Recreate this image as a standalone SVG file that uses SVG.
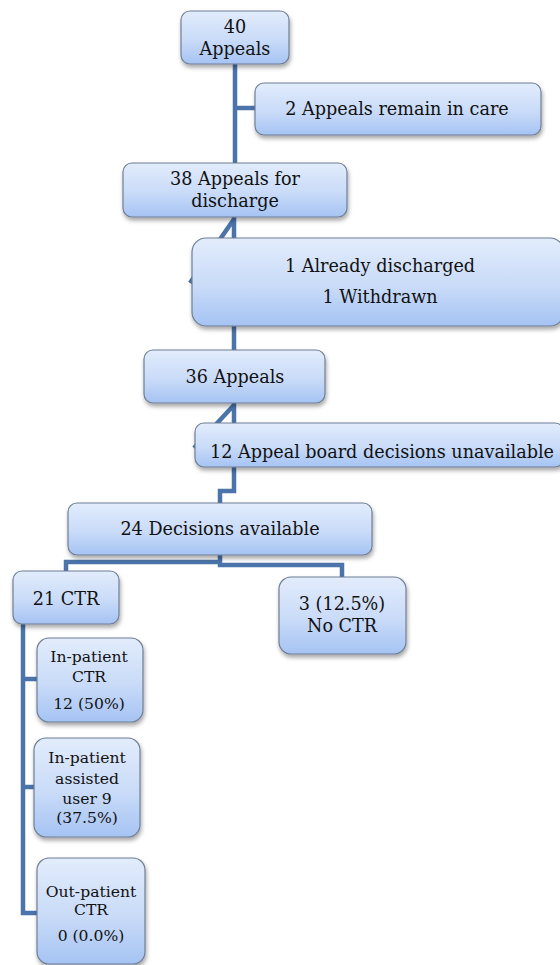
<svg xmlns="http://www.w3.org/2000/svg" width="560" height="965" viewBox="0 0 560 965">
<defs>
<linearGradient id="g" x1="0" y1="0" x2="0" y2="1">
<stop offset="0" stop-color="#e2ecfc"/>
<stop offset="0.55" stop-color="#c9dbf8"/>
<stop offset="1" stop-color="#a5c3f3"/>
</linearGradient>
<filter id="sh" x="-10%" y="-10%" width="130%" height="140%">
<feDropShadow dx="1" dy="3" stdDeviation="2" flood-color="#000" flood-opacity="0.35"/>
</filter>
</defs>
<style>
.n{fill:url(#g);stroke:#6f7f96;stroke-width:1.2;filter:url(#sh)}
.t{font-family:"DejaVu Serif","Liberation Serif",serif;font-size:17.6px;fill:#111;text-anchor:middle}
.s{font-size:15.6px}
.c{fill:none;stroke:#4a74aa;stroke-width:4.5;stroke-linejoin:miter}
</style>
<rect width="560" height="965" fill="#fff"/>
<g id="connectors">
<path class="c" d="M235,64 V163 M235,108 H256"/>
<path class="c" d="M234,217 V350 M234,219 L190,283"/>
<path class="c" d="M234,403 V491 H220 V503 M234,405 L194,448"/>
<path class="c" d="M220,555 V562 H66 V571 M220,562 V565 H342 V578"/>
<path class="c" d="M23,624 V913 H37 M23,679 H37 M23,787 H34"/>
</g>
<g id="n1"><rect class="n" x="181" y="11" width="108" height="53" rx="9"/>
<text class="t" x="235" y="33">40</text><text class="t" x="235" y="55">Appeals</text></g>
<g id="n2"><rect class="n" x="255" y="83" width="286" height="52" rx="9"/>
<text class="t" x="397" y="115">2 Appeals remain in care</text></g>
<g id="n3"><rect class="n" x="123" y="163" width="224" height="54" rx="9"/>
<text class="t" x="235" y="185">38 Appeals for</text><text class="t" x="235" y="207">discharge</text></g>
<g id="n4"><rect class="n" x="192" y="238" width="372" height="88" rx="14"/>
<text class="t" x="380" y="272">1 Already discharged</text><text class="t" x="380" y="303">1 Withdrawn</text></g>
<g id="n5"><rect class="n" x="144" y="350" width="181" height="53" rx="9"/>
<text class="t" x="235" y="383">36 Appeals</text></g>
<g id="n6"><rect class="n" x="195" y="423" width="369" height="44" rx="9"/>
<text class="t" x="382" y="458">12 Appeal board decisions unavailable</text></g>
<g id="n7"><rect class="n" x="68" y="503" width="304" height="52" rx="9"/>
<text class="t" x="220" y="535">24 Decisions available</text></g>
<g id="n8"><rect class="n" x="13" y="571" width="106" height="53" rx="9"/>
<text class="t" x="66" y="605">21 CTR</text></g>
<g id="n9"><rect class="n" x="279" y="577" width="127" height="77" rx="12"/>
<text class="t" x="342" y="610">3 (12.5%)</text><text class="t" x="342" y="632">No CTR</text></g>
<g id="n10"><rect class="n" x="37" y="638" width="106" height="84" rx="12"/>
<text class="t s" x="89" y="662">In-patient</text><text class="t s" x="89" y="682">CTR</text><text class="t s" x="89" y="709">12 (50%)</text></g>
<g id="n11"><rect class="n" x="34" y="738" width="106" height="99" rx="12"/>
<text class="t s" x="87" y="763">In-patient</text><text class="t s" x="87" y="784">assisted</text><text class="t s" x="87" y="804">user 9</text><text class="t s" x="87" y="823">(37.5%)</text></g>
<g id="n12"><rect class="n" x="37" y="858" width="108" height="106" rx="12"/>
<text class="t s" x="91" y="897">Out-patient</text><text class="t s" x="91" y="915">CTR</text><text class="t s" x="91" y="941">0 (0.0%)</text></g>
</svg>
